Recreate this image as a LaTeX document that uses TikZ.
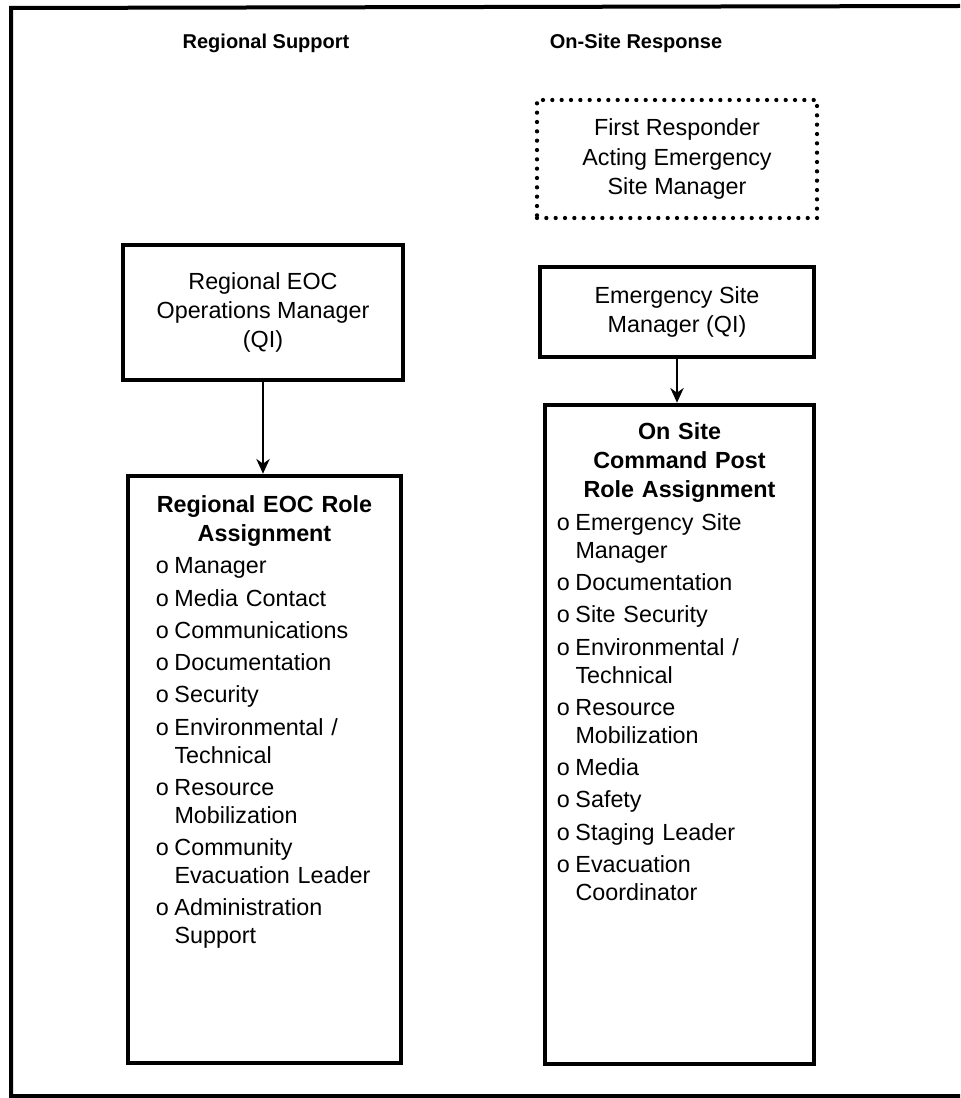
\documentclass[tikz,border=0pt]{standalone}
\usepackage{fontspec}
\setmainfont{Liberation Sans}
\usetikzlibrary{arrows.meta, positioning}

\tikzset{
    rolebox/.style={draw, line width=3.5pt, align=center, inner sep=0pt},
    dotbox/.style={draw, line width=3.2pt, line cap=round, dash pattern=on 0pt off 7pt, align=center, inner sep=0pt},
    flow/.style={line width=1.6pt, -{Stealth[length=11pt, width=10pt, inset=3.5pt]}},
    heading/.style={font=\fontsize{15}{18}\selectfont\bfseries}
}
\newcommand{\roleitem}[1]{\par\hangindent=14pt\hangafter=1\noindent\makebox[14pt][l]{o}#1}
\newcommand{\listfont}{\fontsize{17.5}{21}\selectfont\leftskip=\listindent \rightskip=0pt plus 1fil \parskip=3.2pt}
\newlength{\listindent}

\begin{document}
\begin{tikzpicture}[x=0.75pt, y=-0.75pt, font=\fontsize{17.5}{22}\selectfont]
            \useasboundingbox (0,0) rectangle (960,1098);
            % frame, open on the right
            \draw[line width=3pt] (960,6) -- (11,8) -- (11,1096) -- (960,1096);

            \node[heading] (regtitle) at (266,43) {Regional Support};
            \node[heading] (sitetitle) at (636,43) {On-Site Response};

            \node[dotbox, minimum width=210pt, minimum height=88.5pt] (firstresp) at (677,159) {First Responder\\Acting Emergency\\Site Manager};
            \node[rolebox, minimum width=210pt, minimum height=101.25pt] (opsmgr) at (263,312.5) {Regional EOC\\Operations Manager\\(QI)};
            \node[rolebox, minimum width=205.5pt, minimum height=67.5pt] (esm) at (677,312) {Emergency Site\\Manager (QI)};

            \node[rolebox, minimum width=204.75pt, minimum height=440.25pt] (eocroles) at (264.5,769.5) {};
            \node[rolebox, minimum width=201.75pt, minimum height=494.25pt] (siteroles) at (679.5,734.5) {};

            \node[anchor=north, text width=190pt, inner sep=0pt] (eoclist) at ([yshift=-16pt]eocroles.north) {%
                {\centering\bfseries Regional EOC Role\\Assignment\par}
                \setlength{\listindent}{13.5pt}\listfont
                \roleitem{Manager}
                \roleitem{Media Contact}
                \roleitem{Communications}
                \roleitem{Documentation}
                \roleitem{Security}
                \roleitem{Environmental /\newline Technical}
                \roleitem{Resource\newline Mobilization}
                \roleitem{Community\newline Evacuation Leader}
                \roleitem{Administration\newline Support}\par};

            \node[anchor=north, text width=188pt, inner sep=0pt] (sitelist) at ([yshift=-14.6pt]siteroles.north) {%
                {\centering\bfseries On Site\\Command Post\\Role Assignment\par}
                \setlength{\listindent}{2pt}\listfont
                \roleitem{Emergency Site\newline Manager}
                \roleitem{Documentation}
                \roleitem{Site Security}
                \roleitem{Environmental /\newline Technical}
                \roleitem{Resource\newline Mobilization}
                \roleitem{Media}
                \roleitem{Safety}
                \roleitem{Staging Leader}
                \roleitem{Evacuation\newline Coordinator}\par};

            \draw[flow] (opsmgr.south) -- (opsmgr.south |- eocroles.north);
            \draw[flow] (esm.south) -- (esm.south |- siteroles.north);
        \end{tikzpicture}
\end{document}
